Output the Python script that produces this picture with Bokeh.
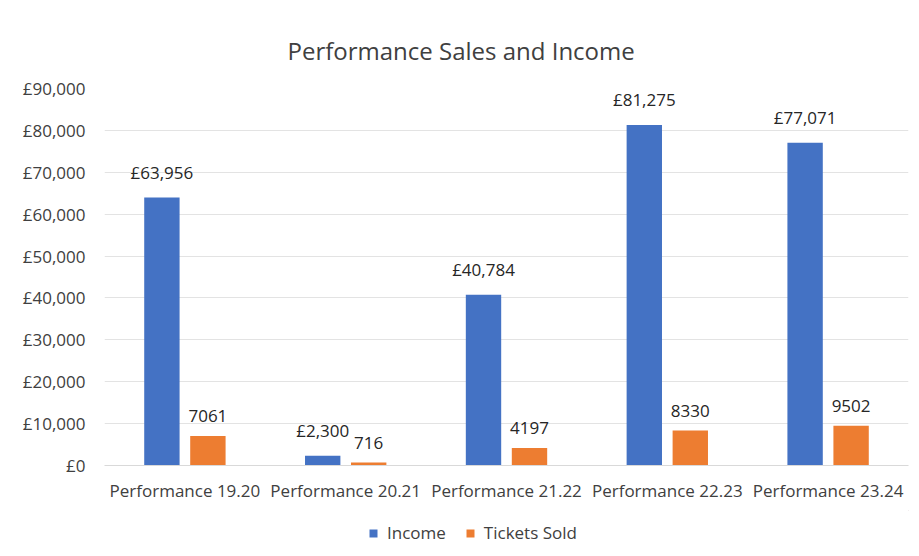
from bokeh.plotting import figure
from bokeh.layouts import column
from bokeh.models import ColumnDataSource, FactorRange, FixedTicker, Legend, LegendItem, Range1d
from bokeh.transform import dodge
from bokeh.core.properties import value
from bokeh.embed import file_html
from bokeh.resources import INLINE

categories = ["Performance 19.20", "Performance 20.21", "Performance 21.22", "Performance 22.23", "Performance 23.24"]
income = [63956, 2300, 40784, 81275, 77071]
tickets = [7061, 716, 4197, 8330, 9502]
income_labels = ["£63,956", "£2,300", "£40,784", "£81,275", "£77,071"]
ticket_labels = ["7061", "716", "4197", "8330", "9502"]
y_ticks = [0, 10000, 20000, 30000, 40000, 50000, 60000, 70000, 80000, 90000]
y_tick_labels = ["£0", "£10,000", "£20,000", "£30,000", "£40,000", "£50,000", "£60,000", "£70,000", "£80,000", "£90,000"]
series_names = ["Income", "Tickets Sold"]

FONT = "Open Sans"
BLUE = "#4472C4"
ORANGE = "#ED7D31"

src = ColumnDataSource(dict(cat=categories, income=income, tickets=tickets,
                            il=income_labels, tl=ticket_labels))

p = figure(x_range=FactorRange(*categories, range_padding=0), y_range=Range1d(0, 90000),
           width=911, height=510, output_backend="svg", toolbar_location=None,
           title="Performance Sales and Income",
           min_border_left=104, min_border_right=3, min_border_top=88, min_border_bottom=45)

p.title.align = "left"
p.title.offset = 183
p.title.text_font = FONT
p.title.text_font_size = "24px"
p.title.text_font_style = "normal"
p.title.text_color = "#404040"
p.title.standoff = 44

p.vbar(x=dodge("cat", -0.143, range=p.x_range), top="income", width=0.22, source=src,
       fill_color=BLUE, line_color=None)
p.vbar(x=dodge("cat", 0.143, range=p.x_range), top="tickets", width=0.22, source=src,
       fill_color=ORANGE, line_color=None)

p.text(x=dodge("cat", -0.143, range=p.x_range), y="income", text="il", source=src,
       text_align="center", text_baseline="bottom", y_offset=-14,
       text_font=value(FONT), text_font_size="17px", text_color="#262626")
p.text(x=dodge("cat", 0.143, range=p.x_range), y="tickets", text="tl", source=src,
       text_align="center", text_baseline="bottom", y_offset=-14,
       text_font=value(FONT), text_font_size="17px", text_color="#262626")

p.yaxis.ticker = FixedTicker(ticks=y_ticks)
p.yaxis.major_label_overrides = {t: l for t, l in zip(y_ticks, y_tick_labels)}
p.yaxis.axis_line_color = None
p.yaxis.major_tick_line_color = None
p.yaxis.minor_tick_line_color = None
p.yaxis.major_label_text_font = FONT
p.yaxis.major_label_text_font_size = "17px"
p.yaxis.major_label_text_color = "#404040"
p.yaxis.major_label_standoff = 13

p.xaxis.axis_line_color = "#D9D9D9"
p.xaxis.major_tick_line_color = None
p.xaxis.minor_tick_line_color = None
p.xaxis.major_label_text_font = FONT
p.xaxis.major_label_text_font_size = "17px"
p.xaxis.major_label_text_color = "#404040"
p.xaxis.major_label_standoff = 7

p.xgrid.grid_line_color = None
p.ygrid.grid_line_color = "#E3E3E3"
p.outline_line_color = None

# legend strip below the chart
lg = figure(width=911, height=46, output_backend="svg", toolbar_location=None,
            x_range=Range1d(0, 1), y_range=Range1d(0, 1),
            x_axis_type=None, y_axis_type=None,
            min_border_left=104, min_border_right=3, min_border_top=0, min_border_bottom=0)
lg.outline_line_color = None
lg.xgrid.grid_line_color = None
lg.ygrid.grid_line_color = None
# legend-only renderers: their single bar lies outside the visible range
lr1 = lg.vbar(x=[5], top=[5], bottom=[4], width=0.1, fill_color=BLUE, line_color=None)
lr2 = lg.vbar(x=[5], top=[5], bottom=[4], width=0.1, fill_color=ORANGE, line_color=None)
legend = Legend(items=[LegendItem(label=series_names[0], renderers=[lr1]),
                       LegendItem(label=series_names[1], renderers=[lr2])],
                orientation="horizontal", location=(264, 12),
                label_text_font=FONT, label_text_font_size="17px", label_text_color="#404040",
                glyph_width=10, glyph_height=10, spacing=19, label_standoff=9,
                border_line_color=None, background_fill_alpha=0, margin=0, padding=4)
lg.add_layout(legend, "center")

layout = column(p, lg, spacing=0)
open("out.html", "w").write(file_html(layout, INLINE))
